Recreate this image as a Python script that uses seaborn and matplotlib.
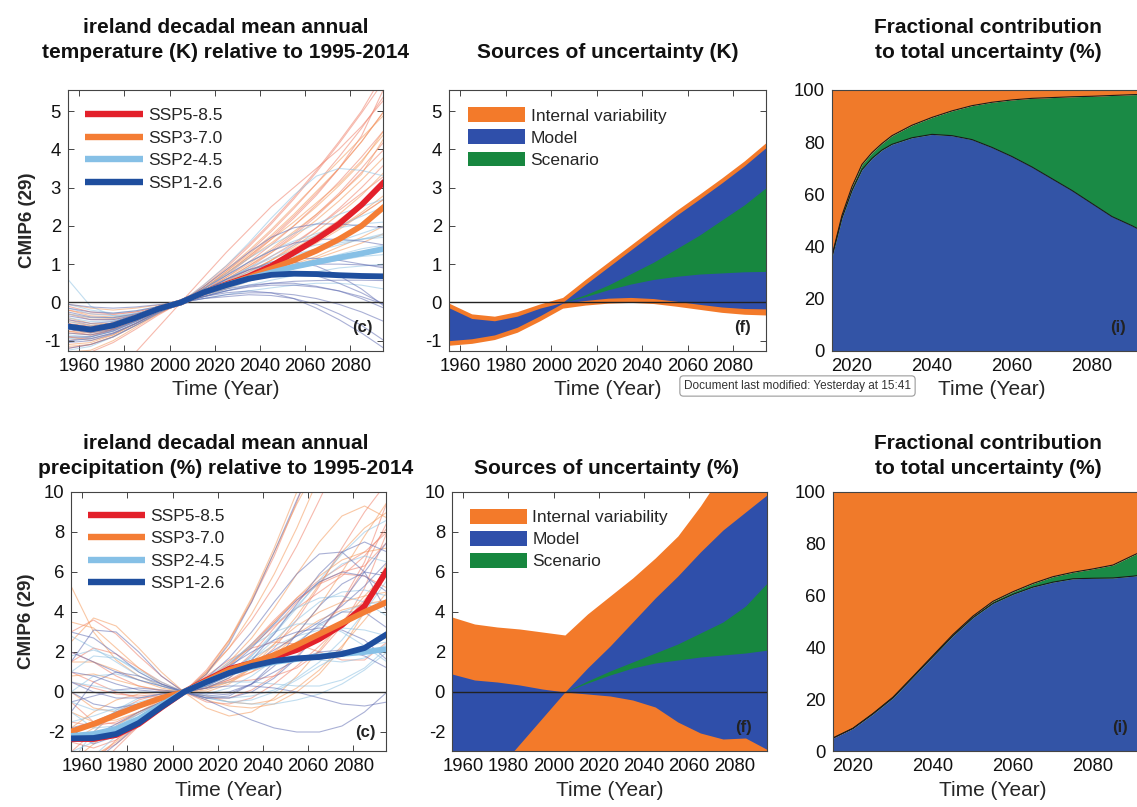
import numpy as np
import pandas as pd
import matplotlib
matplotlib.use("Agg")
import matplotlib.pyplot as plt
import seaborn as sns
from matplotlib.lines import Line2D
from matplotlib.patches import Patch

# ---------------------------------------------------------------- data
years = [1955, 1965, 1975, 1985, 1995, 2005, 2015, 2025, 2035, 2045, 2055, 2065, 2075, 2085, 2095]
scenarios = ["SSP5-8.5", "SSP3-7.0", "SSP2-4.5", "SSP1-2.6"]
nan = np.nan

# temperature anomaly (K), individual model fits
tas_ssp585 = [
    [-0.9, -0.95, -0.8, -0.55, -0.25, 0, 0.35, 0.75, 1.2, 1.7, 2.25, 2.85, 3.5, 4.2, 5.0],
    [-0.3, -0.45, -0.45, -0.35, -0.18, 0, 0.3, 0.65, 1.05, 1.5, 2.0, 2.55, 3.15, 3.8, 4.5],
    [-1.2, -1.1, -0.9, -0.6, -0.3, 0, 0.4, 0.9, 1.45, 2.05, 2.7, 3.4, 4.15, 4.95, 5.8],
    [-0.6, -0.7, -0.65, -0.45, -0.22, 0, 0.25, 0.55, 0.85, 1.2, 1.55, 1.95, 2.4, 2.85, 3.3],
    [-0.1, -0.25, -0.3, -0.25, -0.12, 0, 0.2, 0.45, 0.7, 1.0, 1.3, 1.6, 1.95, 2.3, 2.7],
    [-3.0, -2.4, -1.85, -1.3, -0.65, 0, 0.65, 1.3, 1.9, 2.5, 3.0, 3.5, 4.0, 4.6, 5.3],
    [-0.75, -0.85, -0.75, -0.5, -0.22, 0, 0.3, 0.6, 0.95, 1.35, 1.8, 2.3, 2.85, 3.5, 4.2],
    [-1.0, -0.9, -0.7, -0.45, -0.2, 0, 0.3, 0.7, 1.15, 1.65, 2.2, 2.8, 3.5, 4.35, 5.6],
    [-0.45, -0.6, -0.58, -0.42, -0.2, 0, 0.35, 0.8, 1.3, 1.85, 2.45, 3.1, 3.8, 4.55, 5.4],
    [-0.2, -0.3, -0.32, -0.25, -0.12, 0, 0.25, 0.55, 0.9, 1.3, 1.75, 2.25, 2.8, 3.4, 4.0],
    [-1.4, -1.3, -1.05, -0.7, -0.33, 0, 0.45, 0.95, 1.5, 2.1, 2.75, 3.45, 4.2, 5.0, 6.0],
    [-0.55, -0.62, -0.55, -0.38, -0.18, 0, 0.2, 0.45, 0.75, 1.1, 1.5, 1.95, 2.45, 3.0, 3.6],
]
tas_ssp370 = [
    [-0.8, -0.85, -0.7, -0.45, -0.2, 0, 0.3, 0.6, 0.95, 1.3, 1.7, 2.15, 2.65, 3.2, 3.8],
    [-0.4, -0.55, -0.55, -0.4, -0.2, 0, 0.25, 0.5, 0.75, 1.0, 1.3, 1.6, 1.95, 2.35, 2.8],
    [-1.1, -1.05, -0.85, -0.55, -0.25, 0, 0.35, 0.8, 1.25, 1.75, 2.3, 2.9, 3.5, 4.2, 5.0],
    [-0.2, -0.35, -0.38, -0.3, -0.15, 0, 0.15, 0.35, 0.55, 0.75, 0.95, 1.15, 1.35, 1.55, 1.8],
    [-0.65, -0.75, -0.65, -0.45, -0.2, 0, 0.3, 0.65, 1.0, 1.4, 1.85, 2.3, 2.8, 3.35, 4.3],
    [-1.3, -1.25, -1.0, -0.65, -0.3, 0, 0.35, 0.75, 1.15, 1.55, 2.0, 2.5, 3.05, 3.65, 4.5],
    [-0.05, -0.15, -0.2, -0.15, -0.07, 0, 0.2, 0.4, 0.6, 0.8, 1.0, 1.2, 1.45, 1.7, 2.0],
    [-0.9, -1.0, -0.85, -0.55, -0.25, 0, 0.3, 0.55, 0.8, 1.1, 1.4, 1.75, 2.15, 2.6, 3.1],
    [-0.5, -0.6, -0.55, -0.4, -0.2, 0, 0.35, 0.75, 1.2, 1.65, 2.1, 2.6, 3.1, 3.7, 4.4],
    [-1.15, -1.1, -0.9, -0.6, -0.28, 0, 0.25, 0.5, 0.8, 1.1, 1.45, 1.85, 2.3, 2.8, 3.4],
    [-0.3, -0.4, -0.42, -0.32, -0.16, 0, 0.2, 0.45, 0.7, 0.95, 1.25, 1.55, 1.9, 2.3, 2.7],
    [-0.75, -0.8, -0.7, -0.48, -0.22, 0, 0.4, 0.85, 1.35, 1.9, 2.5, 3.1, 3.7, 4.3, 4.9],
]
tas_ssp245 = [
    [-0.7, -0.75, -0.65, -0.45, -0.2, 0, 0.25, 0.5, 0.75, 1.0, 1.2, 1.4, 1.6, 1.8, 2.0],
    [0.6, -0.1, -0.35, -0.35, -0.18, 0, 0.45, 0.95, 1.55, 2.2, 2.8, 3.3, 3.5, 3.45, 3.3],
    [-0.3, -0.4, -0.4, -0.3, -0.15, 0, 0.2, 0.4, 0.6, 0.78, 0.95, 1.1, 1.25, 1.4, 1.5],
    [-1.0, -0.95, -0.8, -0.55, -0.25, 0, 0.3, 0.6, 0.9, 1.2, 1.5, 1.75, 2.0, 2.25, 2.5],
    [-0.5, -0.6, -0.55, -0.4, -0.2, 0, 0.15, 0.3, 0.45, 0.58, 0.7, 0.8, 0.9, 0.95, 1.0],
    [-1.25, -1.15, -0.9, -0.6, -0.28, 0, 0.3, 0.55, 0.8, 1.05, 1.25, 1.4, 1.55, 1.65, 1.75],
    [-0.15, -0.3, -0.35, -0.28, -0.14, 0, 0.1, 0.2, 0.3, 0.38, 0.45, 0.5, 0.5, 0.45, 0.35],
    [-0.85, -0.9, -0.75, -0.5, -0.22, 0, 0.35, 0.7, 1.05, 1.35, 1.6, 1.8, 1.95, 2.05, 2.1],
    [-0.4, -0.5, -0.48, -0.35, -0.17, 0, 0.2, 0.45, 0.7, 0.95, 1.15, 1.35, 1.5, 1.65, 1.8],
    [-0.95, -0.9, -0.75, -0.5, -0.24, 0, 0.35, 0.75, 1.15, 1.5, 1.8, 2.05, 2.3, 2.5, 2.7],
    [-0.65, -0.7, -0.62, -0.43, -0.2, 0, 0.15, 0.35, 0.55, 0.72, 0.88, 1.0, 1.1, 1.2, 1.25],
    [-0.05, -0.2, -0.28, -0.22, -0.11, 0, 0.3, 0.6, 0.9, 1.15, 1.35, 1.5, 1.6, 1.65, 1.7],
]
tas_ssp126 = [
    [-0.6, -0.7, -0.62, -0.42, -0.2, 0, 0.25, 0.5, 0.7, 0.85, 0.95, 1.0, 1.0, 0.98, 0.95],
    [-0.25, -0.38, -0.4, -0.3, -0.15, 0, 0.15, 0.3, 0.4, 0.45, 0.45, 0.4, 0.3, 0.15, -0.05],
    [-1.0, -0.95, -0.8, -0.55, -0.25, 0, 0.3, 0.6, 0.85, 1.0, 1.05, 0.95, 0.7, 0.35, -0.1],
    [-0.45, -0.55, -0.5, -0.35, -0.17, 0, 0.1, 0.15, 0.2, 0.18, 0.1, -0.05, -0.3, -0.6, -1.0],
    [-0.8, -0.85, -0.72, -0.48, -0.22, 0, 0.4, 0.85, 1.3, 1.7, 1.95, 2.05, 2.05, 2.0, 1.95],
    [-1.2, -1.1, -0.9, -0.6, -0.28, 0, 0.2, 0.35, 0.45, 0.5, 0.5, 0.42, 0.3, 0.1, -0.15],
    [-0.05, -0.12, -0.15, -0.12, -0.06, 0, 0.15, 0.3, 0.42, 0.5, 0.55, 0.57, 0.58, 0.58, 0.57],
    [-0.7, -0.8, -0.7, -0.45, -0.2, 0, 0.15, 0.25, 0.3, 0.25, 0.1, -0.15, -0.45, -0.8, -1.2],
    [-0.35, -0.45, -0.45, -0.33, -0.16, 0, 0.3, 0.6, 0.85, 1.05, 1.15, 1.15, 1.1, 1.0, 0.9],
    [-0.9, -0.9, -0.75, -0.5, -0.23, 0, 0.25, 0.5, 0.7, 0.8, 0.8, 0.7, 0.5, 0.25, -0.05],
    [-0.15, -0.25, -0.28, -0.22, -0.11, 0, 0.1, 0.2, 0.25, 0.25, 0.2, 0.1, -0.05, -0.25, -0.5],
    [-1.05, -1.0, -0.82, -0.55, -0.25, 0, 0.35, 0.7, 1.05, 1.35, 1.55, 1.65, 1.65, 1.6, 1.5],
]

# temperature anomaly (K), multi-model means
tas_mean_ssp585 = [-0.63, -0.71, -0.6, -0.4, -0.17, 0, 0.26, 0.47, 0.68, 0.95, 1.3, 1.65, 2.05, 2.55, 3.15]
tas_mean_ssp370 = [-0.63, -0.71, -0.6, -0.4, -0.17, 0, 0.26, 0.45, 0.65, 0.88, 1.1, 1.35, 1.65, 2.0, 2.5]
tas_mean_ssp245 = [-0.63, -0.71, -0.6, -0.4, -0.17, 0, 0.26, 0.45, 0.62, 0.78, 0.93, 1.05, 1.17, 1.28, 1.4]
tas_mean_ssp126 = [-0.63, -0.71, -0.6, -0.4, -0.17, 0, 0.26, 0.45, 0.62, 0.72, 0.75, 0.74, 0.71, 0.69, 0.68]

# precipitation anomaly (%), individual model fits
pr_ssp585 = [
    [-2.5, -2.8, -2.4, -1.6, -0.8, 0, 1.0, 2.2, 3.6, 5.3, 7.3, 9.6, 12, 15, 18],
    [1.5, 2.2, 1.9, 1.2, 0.5, 0, -0.3, -0.3, 0.1, 0.8, 1.8, 3.0, 4.4, 6.2, 8.5],
    [-4.5, -3.5, -2.4, -1.4, -0.6, 0, 0.6, 1.4, 2.4, 3.5, 4.6, 5.4, 5.9, 5.8, 5.2],
    [3.0, 3.6, 2.9, 1.8, 0.8, 0, -0.5, -0.6, -0.3, 0.4, 1.3, 2.3, 3.4, 4.6, 6.0],
    [-1.5, -1.7, -1.5, -1.0, -0.5, 0, 0.6, 1.4, 2.3, 3.3, 4.2, 5.0, 5.8, 6.8, 8.2],
    [-5.0, -4.0, -2.8, -1.7, -0.8, 0, 0.8, 1.6, 2.2, 2.5, 2.4, 2.0, 1.6, 1.6, 2.5],
    [0.5, 0.2, -0.1, -0.2, -0.1, 0, 0.2, 0.6, 1.2, 2.2, 3.6, 5.3, 7.2, 9.0, 10.5],
    [-3.0, -2.0, -1.0, -0.4, -0.1, 0, 0.3, 0.9, 1.9, 3.2, 4.5, 5.5, 6.0, 6.3, 7.5],
    [-3.0, -3.2, -2.6, -1.7, -0.8, 0, 1.1, 2.6, 4.5, 6.8, 9.5, 12.5, 15, 17, 18],
    [2.0, 1.5, 0.8, 0.3, 0.05, 0, 0.2, 0.6, 1.0, 1.5, 2.1, 3.0, 4.5, 6.5, 9.5],
    [-0.5, -1.5, -1.6, -1.1, -0.5, 0, 0.3, 0.5, 0.6, 0.8, 1.2, 2.0, 3.3, 5.2, 8.0],
    [1.0, 0.5, 0.0, -0.3, -0.2, 0, 0.5, 1.3, 2.4, 3.6, 4.7, 5.6, 6.3, 7.0, 8.0],
]
pr_ssp370 = [
    [-2.0, -2.5, -2.2, -1.5, -0.7, 0, 0.9, 2.2, 3.9, 5.9, 8.2, 10.8, 13.5, 16, 19],
    [2.5, 3.7, 3.3, 2.2, 1.0, 0, -0.8, -1.2, -1.0, -0.3, 0.8, 2.1, 3.5, 4.8, 6.0],
    [-3.5, -2.6, -1.7, -1.0, -0.4, 0, 0.6, 1.5, 2.7, 4.2, 5.9, 7.5, 8.8, 9.3, 8.7],
    [0.8, 0.9, 0.6, 0.3, 0.1, 0, 0.2, 0.7, 1.5, 2.4, 3.3, 4.0, 4.5, 4.8, 5.0],
    [-1.0, -1.5, -1.4, -1.0, -0.5, 0, 0.9, 2.5, 4.6, 7.0, 9.4, 11.5, 13, 14, 14],
    [5.3, 3.0, 1.6, 0.8, 0.3, 0, -0.4, -0.7, -0.8, -0.6, 0.0, 0.9, 2.2, 4.0, 6.5],
    [-2.5, -1.8, -1.1, -0.6, -0.3, 0, 0.5, 1.3, 2.3, 3.5, 4.7, 5.8, 6.6, 7.0, 7.2],
    [1.5, 1.5, 1.1, 0.6, 0.2, 0, 0.1, 0.5, 1.2, 2.0, 2.9, 3.6, 4.1, 4.4, 4.6],
    [-3.0, -3.2, -2.5, -1.6, -0.7, 0, 1.0, 2.6, 4.7, 7.2, 10, 13, 16, 18, 20],
    [0.0, -0.8, -1.0, -0.7, -0.3, 0, 0.2, 0.5, 1.0, 1.8, 2.9, 4.3, 6.0, 7.8, 9.5],
    [3.5, 3.2, 2.2, 1.2, 0.4, 0, 0.0, 0.4, 1.2, 2.4, 3.8, 5.4, 7.0, 8.2, 9.0],
    [-1.8, -1.0, -0.4, -0.1, 0.0, 0, -0.2, -0.5, -0.6, -0.4, 0.2, 1.1, 2.3, 3.6, 5.0],
]
pr_ssp245 = [
    [-1.5, -1.2, -0.8, -0.5, -0.2, 0, 0.5, 1.1, 1.7, 2.3, 2.8, 3.1, 3.2, 3.1, 2.8],
    [1.8, 2.1, 1.7, 1.0, 0.4, 0, -0.3, -0.5, -0.4, 0.0, 0.6, 1.3, 1.9, 2.3, 2.5],
    [-4.0, -3.2, -2.2, -1.3, -0.6, 0, 0.6, 1.2, 1.6, 1.8, 1.8, 1.6, 1.5, 1.7, 2.4],
    [0.5, 0.3, 0.1, 0.0, 0.0, 0, 0.3, 0.8, 1.6, 2.6, 3.6, 4.5, 5.0, 5.1, 4.8],
    [-2.2, -2.4, -2.0, -1.3, -0.6, 0, 0.7, 1.5, 2.3, 3.0, 3.4, 3.4, 3.0, 2.3, 1.5],
    [2.8, 2.2, 1.5, 0.8, 0.3, 0, -0.3, -0.5, -0.6, -0.6, -0.4, -0.1, 0.4, 1.1, 2.0],
    [-0.5, -0.9, -0.9, -0.6, -0.3, 0, 0.4, 1.0, 1.8, 2.9, 4.2, 5.6, 6.9, 8.0, 8.6],
    [-3.0, -2.5, -1.8, -1.1, -0.5, 0, 0.3, 0.5, 0.5, 0.4, 0.3, 0.3, 0.6, 1.2, 2.2],
    [1.0, 1.8, 1.7, 1.1, 0.5, 0, -0.1, 0.2, 0.8, 1.6, 2.5, 3.3, 4.0, 4.4, 4.5],
    [-3.5, -2.0, -0.9, -0.3, -0.1, 0, 0.3, 0.9, 1.8, 3.0, 4.3, 5.5, 6.4, 6.8, 6.5],
    [0.0, 0.8, 0.9, 0.6, 0.3, 0, -0.2, -0.3, -0.2, 0.1, 0.7, 1.5, 2.6, 4.0, 5.6],
    [-1.0, -1.8, -1.7, -1.1, -0.5, 0, 0.6, 1.4, 2.4, 3.4, 4.2, 4.7, 4.8, 4.5, 3.8],
]
pr_ssp126 = [
    [-1.0, 0.5, 1.0, 0.8, 0.4, 0, -0.2, -0.1, 0.4, 1.3, 2.4, 3.4, 4.0, 4.0, 3.2],
    [1.5, 3.1, 3.0, 2.0, 0.8, 0, -0.3, -0.2, 0.4, 1.5, 2.9, 4.3, 5.4, 6.0, 5.8],
    [-2.5, -2.2, -1.6, -1.0, -0.5, 0, 0.7, 1.7, 3.0, 4.5, 5.9, 6.9, 7.0, 6.0, 4.0],
    [0.5, 0.0, -0.3, -0.3, -0.1, 0, 0.2, 0.3, 0.3, 0.2, 0.0, -0.3, -0.6, -0.7, -0.5],
    [-4.0, -3.5, -2.6, -1.6, -0.7, 0, 0.9, 2.4, 4.5, 7.0, 9.6, 12, 14, 15, 15],
    [2.0, 1.5, 1.0, 0.6, 0.3, 0, -0.4, -0.9, -1.4, -1.8, -2.0, -2.0, -1.7, -1.0, 0.0],
    [-1.8, -1.5, -1.0, -0.6, -0.3, 0, 0.3, 0.8, 1.4, 2.1, 2.8, 3.5, 4.3, 5.3, 6.5],
    [0.0, -0.6, -0.8, -0.6, -0.3, 0, 0.5, 1.2, 2.2, 3.4, 4.6, 5.5, 6.0, 5.8, 5.0],
    [3.0, 2.7, 1.9, 1.0, 0.4, 0, -0.3, -0.3, 0.0, 0.7, 1.7, 3.0, 4.5, 6.0, 7.5],
    [-2.0, -2.6, -2.2, -1.4, -0.6, 0, 0.6, 1.3, 2.0, 2.6, 3.0, 3.2, 3.1, 2.6, 1.6],
    [1.0, 0.8, 0.4, 0.1, 0.0, 0, 0.2, 0.7, 1.6, 2.9, 4.4, 5.9, 7.0, 7.5, 7.0],
    [-0.5, -0.2, 0.1, 0.2, 0.1, 0, -0.1, 0.0, 0.4, 1.0, 1.6, 2.0, 2.1, 1.8, 1.2],
]

# precipitation anomaly (%), multi-model means
pr_mean_ssp585 = [-2.35, -2.35, -2.15, -1.6, -0.78, 0, 0.6, 1.15, 1.45, 1.75, 2.1, 2.65, 3.35, 4.3, 6.1]
pr_mean_ssp370 = [-1.98, -1.6, -1.15, -0.7, -0.3, 0, 0.55, 1.1, 1.45, 1.85, 2.35, 2.9, 3.45, 4.0, 4.5]
pr_mean_ssp245 = [-2.2, -2.1, -1.85, -1.35, -0.65, 0, 0.5, 0.95, 1.25, 1.5, 1.65, 1.78, 1.9, 2.0, 2.15]
pr_mean_ssp126 = [-2.32, -2.3, -2.1, -1.55, -0.75, 0, 0.5, 0.95, 1.3, 1.55, 1.68, 1.75, 1.9, 2.2, 2.9]

# sources of uncertainty, temperature (K): band edges from bottom to top
tas_iv_low = [-1.12, -1.07, -0.97, -0.78, -0.48, -0.15, -0.07, -0.02, 0.0, -0.03, -0.1, -0.18, -0.26, -0.31, -0.33]
tas_model_low = [-1.0, -0.95, -0.85, -0.65, -0.35, -0.02, 0.05, 0.11, 0.13, 0.1, 0.03, -0.05, -0.12, -0.16, -0.17]
tas_scen_low = [nan, nan, nan, nan, nan, 0, 0.15, 0.33, 0.48, 0.6, 0.68, 0.74, 0.77, 0.8, 0.81]
tas_scen_high = [nan, nan, nan, nan, nan, 0, 0.2, 0.45, 0.75, 1.05, 1.4, 1.75, 2.15, 2.55, 3.02]
tas_model_high = [-0.14, -0.42, -0.48, -0.36, -0.15, 0.0, 0.47, 0.92, 1.37, 1.82, 2.27, 2.69, 3.12, 3.57, 4.07]
tas_iv_high = [-0.02, -0.3, -0.36, -0.24, -0.04, 0.13, 0.6, 1.05, 1.5, 1.95, 2.4, 2.82, 3.25, 3.7, 4.2]

# sources of uncertainty, precipitation (%): band edges from bottom to top
pr_iv_low = [-9.5, -8.2, -6.9, -5.6, -4.3, -3.0, -3.1, -3.2, -3.4, -3.75, -4.5, -5.05, -5.35, -5.3, -5.9]
pr_model_low = [-6.5, -5.2, -3.9, -2.6, -1.3, 0, -0.1, -0.2, -0.4, -0.75, -1.5, -2.05, -2.35, -2.3, -2.9]
pr_scen_low = [nan, nan, nan, nan, nan, 0, 0.45, 0.85, 1.2, 1.45, 1.6, 1.75, 1.85, 1.95, 2.1]
pr_scen_high = [nan, nan, nan, nan, nan, 0, 0.55, 1.05, 1.5, 1.95, 2.4, 2.95, 3.5, 4.3, 5.5]
pr_model_high = [0.9, 0.6, 0.5, 0.35, 0.15, 0, 1.2, 2.3, 3.5, 4.7, 5.8, 7.0, 8.1, 9.0, 9.9]
pr_iv_high = [3.75, 3.4, 3.25, 3.15, 3.0, 2.85, 3.9, 4.8, 5.7, 6.7, 7.8, 9.3, 11.0, 12.8, 14.5]

# fractional contribution to total uncertainty (%)
tas_frac_years = [2015, 2017.5, 2020, 2022.5, 2025, 2027.5, 2030, 2035, 2040, 2045, 2050,
                  2055, 2060, 2065, 2070, 2075, 2080, 2085, 2090, 2095]
tas_frac_model = [36, 51, 61.5, 69.5, 73.8, 77, 79.2, 81.7, 83, 82.5, 81, 78, 74.5, 70.5, 66, 61.5, 56.5, 51.5, 48, 44]
tas_frac_scen = [0.5, 1, 1.5, 2, 2.2, 2.5, 3.3, 4.8, 6.5, 9.5, 13, 17.3, 21.7, 26.3, 31.1, 35.9, 41.1, 46.4, 50.2, 54.4]
tas_frac_iv = [63.5, 48, 37, 28.5, 24, 20.5, 17.5, 13.5, 10.5, 8, 6, 4.7, 3.8, 3.2, 2.9, 2.6, 2.4, 2.1, 1.8, 1.6]
pr_frac_years = [2015, 2020, 2025, 2030, 2035, 2040, 2045, 2050, 2055, 2060, 2065, 2070, 2075, 2080, 2085, 2090, 2095]
pr_frac_model = [5, 8.7, 14.3, 20.5, 28.5, 36.5, 44.5, 51.5, 57, 60.5, 63.3, 65.2, 66.5, 66.7, 66.8, 67.5, 68.5]
pr_frac_scen = [0, 0.1, 0.2, 0.3, 0.3, 0.4, 0.5, 0.6, 0.8, 1.0, 1.4, 2.1, 2.5, 3.6, 5.0, 8.0, 10.5]
pr_frac_iv = [95, 91.2, 85.5, 79.2, 71.2, 63.1, 55, 47.9, 42.2, 38.5, 35.3, 32.7, 31, 29.7, 28.2, 24.5, 21]

source_labels = ["Internal variability", "Model", "Scenario"]

# ---------------------------------------------------------------- style
sns.set_theme(style="ticks", rc={"xtick.direction": "in", "ytick.direction": "in"})
plt.rcParams["font.family"] = ["Liberation Sans", "DejaVu Sans"]
plt.rcParams["axes.unicode_minus"] = False
plt.rcParams["axes.edgecolor"] = "#444444"
plt.rcParams["axes.linewidth"] = 0.8

thick_colors = ["#e3202a", "#f47d35", "#86c0e6", "#1e4e9e"]
thin_colors = ["#f0806a", "#f59a5c", "#8fc2e3", "#6470b4"]
c_iv, c_model, c_scen = "#f37a2a", "#2f4faa", "#17873f"
c_iv_f, c_model_f, c_scen_f = "#f07a2a", "#3354a6", "#1a8a45"

TICK_FS = 13.3
LABEL_FS = 15
W, H = 1137, 807
fig = plt.figure(figsize=(W / 100, H / 100), dpi=100)


def add_axes(left, top, right, bottom):
    return fig.add_axes([left / W, 1 - bottom / H, (right - left) / W, (bottom - top) / H])


def style_axes(ax):
    ax.tick_params(axis="both", which="both", direction="in", top=True, right=True,
                   length=4, width=0.7, color="#444444", labelsize=TICK_FS, pad=5,
                   labelcolor="#111111")
    for s in ax.spines.values():
        s.set_visible(True)
        s.set_color("#444444")
        s.set_linewidth(0.8)


def members_frame(groups):
    rows = []
    for scen, members in zip(scenarios, groups):
        for k, vals in enumerate(members):
            for yr, v in zip(years, vals):
                rows.append((scen, f"{scen}/{k}", yr, v))
    return pd.DataFrame(rows, columns=["scenario", "member", "year", "value"])


def means_frame(groups):
    rows = []
    for scen, vals in zip(scenarios, groups):
        for yr, v in zip(years, vals):
            rows.append((scen, yr, v))
    return pd.DataFrame(rows, columns=["scenario", "year", "value"])


def spaghetti_panel(ax, members, means, ylim, yticks, legend_anchor, tag):
    sns.lineplot(data=members_frame(members), x="year", y="value", hue="scenario",
                 hue_order=scenarios, palette=thin_colors, units="member",
                 estimator=None, lw=0.8, alpha=0.55, legend=False, ax=ax, zorder=2)
    ax.axhline(0, color="#333333", lw=1.0, zorder=2.5)
    sns.lineplot(data=means_frame(means), x="year", y="value", hue="scenario",
                 hue_order=scenarios, palette=thick_colors, lw=4.2, legend=False,
                 ax=ax, zorder=3)
    ax.set_xlim(1955, 2094.5)
    ax.set_ylim(*ylim)
    ax.set_xticks([1960, 1980, 2000, 2020, 2040, 2060, 2080])
    ax.set_yticks(yticks)
    ax.set_xlabel("Time (Year)", fontsize=LABEL_FS, labelpad=4)
    ax.set_ylabel("CMIP6 (29)", fontsize=13.5, fontweight="bold", labelpad=6)
    handles = [Line2D([0], [0], color=c, lw=4.6, solid_capstyle="butt") for c in thick_colors]
    ax.legend(handles, scenarios, loc="upper left", bbox_to_anchor=legend_anchor,
              frameon=False, fontsize=12.5, handlelength=3.3, handletextpad=0.3,
              labelspacing=0.42, borderaxespad=0, borderpad=0)
    ax.text(*tag, "(c)", transform=ax.transAxes, ha="center", va="center",
            fontsize=12, fontweight="bold", color="#222222")
    style_axes(ax)


def sources_panel(ax, edges, ylim, yticks, legend_anchor, tag):
    iv_lo, m_lo, s_lo, s_hi, m_hi, iv_hi = edges
    ax.fill_between(years, iv_lo, iv_hi, color=c_iv, lw=0, zorder=1)
    ax.fill_between(years, m_lo, m_hi, color=c_model, lw=0, zorder=1.2)
    ax.fill_between(years, s_lo, s_hi, color=c_scen, lw=0, zorder=1.4)
    ax.axhline(0, color="#222222", lw=1.0, zorder=2)
    ax.set_xlim(1955, 2094.5)
    ax.set_ylim(*ylim)
    ax.set_xticks([1960, 1980, 2000, 2020, 2040, 2060, 2080])
    ax.set_yticks(yticks)
    ax.set_xlabel("Time (Year)", fontsize=LABEL_FS, labelpad=4)
    handles = [Patch(facecolor=c, edgecolor="none") for c in (c_iv, c_model, c_scen)]
    ax.legend(handles, source_labels, loc="upper left", bbox_to_anchor=legend_anchor,
              frameon=False, fontsize=12.5, handlelength=3.3, handleheight=0.95,
              handletextpad=0.3, labelspacing=0.32, borderaxespad=0, borderpad=0)
    ax.text(*tag, "(f)", transform=ax.transAxes, ha="center", va="center",
            fontsize=12, fontweight="bold", color="#222222", zorder=5)
    style_axes(ax)


def fraction_panel(ax, fyears, model, scen, iv, tag):
    ax.stackplot(fyears, model, scen, iv, colors=[c_model_f, c_scen_f, c_iv_f], lw=0)
    lower = np.array(model)
    upper = lower + np.array(scen)
    ax.plot(fyears, lower, color="#1a1a1a", lw=0.8)
    ax.plot(fyears, upper, color="#1a1a1a", lw=0.8)
    ax.set_xlim(2015, 2095)
    ax.set_ylim(0, 100)
    ax.set_xticks([2020, 2040, 2060, 2080])
    ax.set_yticks([0, 20, 40, 60, 80, 100])
    ax.set_xlabel("Time (Year)", fontsize=LABEL_FS, labelpad=4)
    ax.text(*tag, "(i)", transform=ax.transAxes, ha="center", va="center",
            fontsize=12, fontweight="bold", color="#222222", zorder=5)
    style_axes(ax)


# ---------------------------------------------------------------- panels
ax1 = add_axes(68, 90, 383, 351)
ax2 = add_axes(449, 90, 766, 351)
ax3 = add_axes(832, 90, 1152, 351)
ax4 = add_axes(71, 492, 386, 751)
ax5 = add_axes(452, 492, 767, 751)
ax6 = add_axes(833, 492, 1153, 751)

spaghetti_panel(ax1, [tas_ssp585, tas_ssp370, tas_ssp245, tas_ssp126],
                [tas_mean_ssp585, tas_mean_ssp370, tas_mean_ssp245, tas_mean_ssp126],
                (-1.27, 5.55), [-1, 0, 1, 2, 3, 4, 5], (0.055, 0.93), (0.935, 0.09))
spaghetti_panel(ax4, [pr_ssp585, pr_ssp370, pr_ssp245, pr_ssp126],
                [pr_mean_ssp585, pr_mean_ssp370, pr_mean_ssp245, pr_mean_ssp126],
                (-2.95, 10), [-2, 0, 2, 4, 6, 8, 10], (0.054, 0.936), (0.935, 0.07))

sources_panel(ax2, [tas_iv_low, tas_model_low, tas_scen_low, tas_scen_high, tas_model_high, tas_iv_high],
              (-1.27, 5.55), [-1, 0, 1, 2, 3, 4, 5], (0.06, 0.933), (0.925, 0.09))
sources_panel(ax5, [pr_iv_low, pr_model_low, pr_scen_low, pr_scen_high, pr_model_high, pr_iv_high],
              (-2.95, 10), [-2, 0, 2, 4, 6, 8, 10], (0.057, 0.936), (0.925, 0.09))

fraction_panel(ax3, tas_frac_years, tas_frac_model, tas_frac_scen, tas_frac_iv, (0.894, 0.09))
fraction_panel(ax6, pr_frac_years, pr_frac_model, pr_frac_scen, pr_frac_iv, (0.896, 0.09))

# ---------------------------------------------------------------- titles
title_kw = dict(ha="center", va="center", fontsize=15, fontweight="bold",
                linespacing=1.45, color="#111111")
fig.text(225.5 / W, 1 - 40 / H, "ireland decadal mean annual\ntemperature (K) relative to 1995-2014", **title_kw)
fig.text(607.5 / W, 1 - 53 / H, "Sources of uncertainty (K)", **title_kw)
fig.text(988 / W, 1 - 40 / H, "Fractional contribution\nto total uncertainty (%)", **title_kw)
fig.text(226 / W, 1 - 456 / H, "ireland decadal mean annual\nprecipitation (%) relative to 1995-2014", **title_kw)
fig.text(607 / W, 1 - 469 / H, "Sources of uncertainty (%)", **title_kw)
fig.text(988 / W, 1 - 456 / H, "Fractional contribution\nto total uncertainty (%)", **title_kw)

# hover note over the middle row
fig.text(684 / W, 1 - 386 / H, "Document last modified: Yesterday at 15:41",
         ha="left", va="center", fontsize=8.5, color="#333333", zorder=10,
         bbox=dict(boxstyle="round,pad=0.35,rounding_size=0.3", fc="white", ec="#9a9a9a", lw=0.8))

fig.savefig("out.png", dpi=100)
